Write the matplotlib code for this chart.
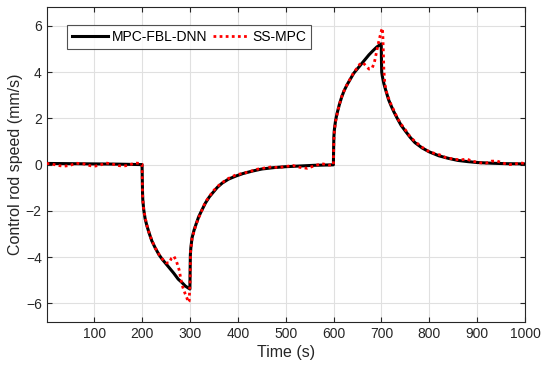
import numpy as np
import matplotlib
matplotlib.use("Agg")
from matplotlib import pyplot as plt

# MPC-FBL-DNN (black solid)
t_dnn = [0, 50, 100, 150, 199.5, 200, 200.5, 201, 203, 206, 210, 215, 220, 227, 235, 242, 250, 258, 266, 275, 283, 290, 299.5,
         300, 300.5, 301.5, 304, 308, 312, 318, 325, 332, 340, 348, 357, 367, 380, 395, 410, 430, 450, 475, 500, 530, 560, 599.5,
         600, 600.5, 601.5, 604, 607, 612, 617, 622, 628, 635, 642, 650, 658, 666, 674, 682, 690, 699.5,
         700, 700.5, 702, 705, 708, 715, 720, 726, 733, 741, 750, 760, 770, 785, 800, 820, 840, 860, 880, 900, 930, 960, 1000]
v_dnn = [0.05, 0.04, 0.03, 0.02, 0.0, -0.6, -1.2, -1.5, -1.95, -2.35, -2.67, -3.0, -3.3, -3.6, -3.9, -4.1, -4.3, -4.5, -4.7, -4.95, -5.1, -5.25, -5.38,
         -4.6, -3.9, -3.6, -3.17, -2.85, -2.6, -2.25, -1.95, -1.66, -1.4, -1.2, -0.98, -0.8, -0.63, -0.5, -0.39, -0.28, -0.19, -0.13, -0.09, -0.06, -0.03, -0.01,
         0.7, 1.2, 1.5, 1.9, 2.2, 2.6, 2.93, 3.2, 3.45, 3.7, 3.95, 4.15, 4.35, 4.55, 4.75, 4.92, 5.08, 5.22,
         4.5, 4.0, 3.8, 3.5, 3.28, 2.8, 2.55, 2.28, 2.0, 1.7, 1.45, 1.18, 0.95, 0.72, 0.55, 0.38, 0.27, 0.18, 0.13, 0.09, 0.06, 0.04, 0.03]

# SS-MPC (red dotted)
t_ss = [0, 10, 22, 35, 48, 62, 78, 92, 100, 112, 124, 138, 150, 160, 172, 185, 195, 199.5,
        200, 200.5, 201, 203, 206, 210, 215, 220, 227, 235, 242, 250, 256, 261, 266, 271, 277, 283, 289, 293, 296, 298,
        300, 301, 304, 308, 312, 318, 325, 332, 340, 348, 357, 367, 380, 395, 410, 425, 440, 455, 470, 485, 500, 515, 530, 545, 560, 575, 590, 599.5,
        600, 600.5, 601.5, 604, 607, 612, 617, 622, 628, 635, 642, 650, 656, 662, 668, 674, 680, 685, 689, 693, 697, 700, 702,
        703, 704, 705, 707, 711, 716, 721, 727, 733, 741, 750, 760, 770, 785, 800, 812, 822, 835, 850, 865, 878, 890, 905, 918, 930, 942, 955, 968, 980, 990, 1000]
v_ss = [0.05, 0.03, -0.03, -0.07, -0.04, 0.06, 0.03, -0.05, -0.07, -0.02, 0.07, 0.02, -0.04, -0.07, -0.02, 0.07, 0.05, 0.02,
        -0.6, -1.2, -1.5, -1.95, -2.3, -2.65, -3.0, -3.28, -3.6, -3.88, -4.08, -4.25, -4.25, -4.05, -3.96, -4.15, -4.55, -5.2, -5.55, -5.75, -5.95, -5.9,
        -5.0, -3.75, -3.2, -2.9, -2.6, -2.3, -1.95, -1.62, -1.38, -1.15, -0.95, -0.78, -0.6, -0.45, -0.38, -0.3, -0.2, -0.15, -0.1, -0.13, -0.08, -0.04, -0.12, -0.16, -0.05, 0.04, -0.02, -0.02,
        0.6, 1.1, 1.45, 1.85, 2.15, 2.6, 2.95, 3.2, 3.45, 3.72, 3.98, 4.2, 4.38, 4.4, 4.25, 4.13, 4.15, 4.4, 4.8, 5.2, 5.55, 5.8, 5.9,
        5.5, 4.8, 4.1, 3.5, 3.1, 2.8, 2.55, 2.3, 2.02, 1.75, 1.5, 1.2, 1.0, 0.75, 0.55, 0.48, 0.42, 0.3, 0.24, 0.2, 0.24, 0.15, 0.08, 0.06, 0.15, 0.15, 0.06, 0.0, 0.03, 0.08, 0.04]

x_ticks = [100, 200, 300, 400, 500, 600, 700, 800, 900, 1000]
y_ticks = [-6, -4, -2, 0, 2, 4, 6]

plt.rcParams['font.family'] = ['Liberation Sans', 'DejaVu Sans']
ax_col = '#262626'

fig = plt.figure(figsize=(5.42, 3.73), dpi=100)
ax = fig.add_axes([0.086, 0.137, 0.8826, 0.8434])

ax.plot(t_dnn, v_dnn, color='black', lw=2.2, label='MPC-FBL-DNN', zorder=3)
ax.plot(t_ss, v_ss, color='red', lw=2.0, linestyle=(0, (1, 1.2)), label='SS-MPC', zorder=4)

ax.set_xlim(0, 1000)
ax.set_ylim(-6.8, 6.8)
ax.set_xticks(x_ticks)
ax.set_yticks(y_ticks)
ax.grid(True, color='#e0e0e0', lw=0.8)
ax.set_axisbelow(True)
ax.tick_params(direction='in', top=True, right=True, length=3.5, width=0.8,
               colors=ax_col, labelsize=10, labelcolor=ax_col)
for s in ax.spines.values():
    s.set_color(ax_col)
    s.set_linewidth(0.8)

ax.set_xlabel('Time (s)', fontsize=11.5, color=ax_col, labelpad=3)
ax.set_ylabel('Control rod speed (mm/s)', fontsize=11.5, color=ax_col, labelpad=2)

leg = ax.legend(loc='upper left', bbox_to_anchor=(0.043, 0.944), ncol=2, fontsize=10,
                frameon=True, fancybox=False, edgecolor=ax_col, handlelength=2.6,
                handletextpad=0.25, columnspacing=0.4, borderpad=0.35, borderaxespad=0)
leg.get_frame().set_linewidth(0.8)

fig.savefig('out.png', dpi=100)
